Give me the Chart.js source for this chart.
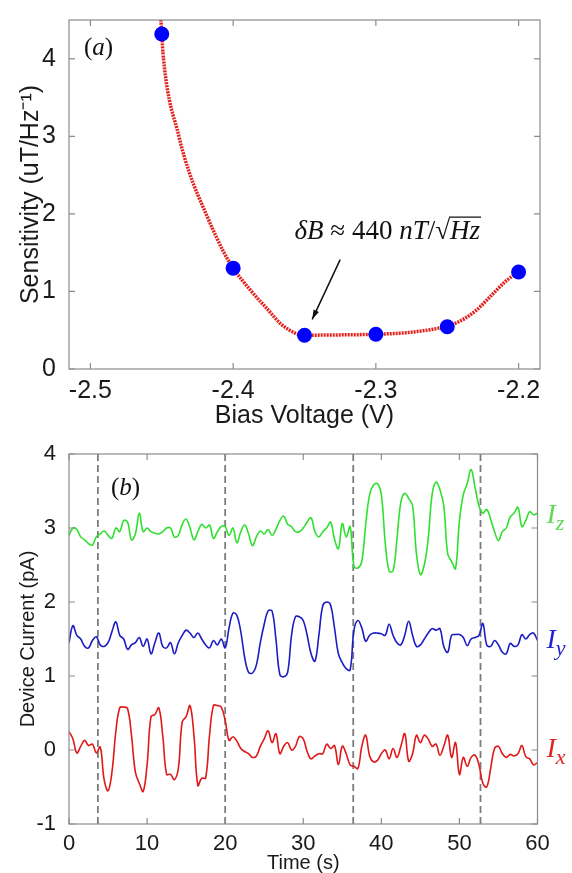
<!DOCTYPE html>
<html>
<head>
<meta charset="utf-8">
<script src="https://cdn.jsdelivr.net/npm/chart.js@4/dist/chart.umd.min.js"></script>
<style>
  body { margin: 0; background: #fff; }
  #wrap { position: relative; width: 572px; height: 873px; }
  canvas { position: absolute; left: 0; }
</style>
</head>
<body>
<div id="wrap">
  <canvas id="sensChart" width="572" height="430" style="top:0"></canvas>
  <canvas id="currChart" width="572" height="443" style="top:430px"></canvas>
</div>
<script>
// (a) pontos medidos
const biasV = [-2.45, -2.4, -2.35, -2.3, -2.25, -2.2];
const sensitivity = [4.32, 1.30, 0.436, 0.448, 0.544, 1.25];
// curva de ajuste
const fitV = [-2.4512, -2.45, -2.4488, -2.438, -2.431, -2.419, -2.4064, -2.4, -2.388, -2.3764, -2.3647, -2.35, -2.325, -2.3, -2.275, -2.248, -2.2388, -2.2295, -2.2201, -2.2085, -2.2];
const fitS = [4.7, 4.32, 4.0, 3.0, 2.55, 2.0, 1.5, 1.30, 1.02, 0.78, 0.553, 0.436, 0.44, 0.448, 0.475, 0.565, 0.64, 0.76, 0.93, 1.14, 1.25];

// (b) correntes do dispositivo
const tempo = [0, 0.5, 1, 1.5, 2, 2.5, 3, 3.5, 4, 4.5, 5, 5.5, 6, 6.5, 7, 7.5, 8, 8.5, 9, 9.5,
  10, 10.5, 11, 11.5, 12, 12.5, 13, 13.5, 14, 14.5, 15, 15.5, 16, 16.5, 17, 17.5, 18, 18.5, 19, 19.5,
  20, 20.5, 21, 21.5, 22, 22.5, 23, 23.5, 24, 24.5, 25, 25.5, 26, 26.5, 27, 27.5, 28, 28.5, 29, 29.5,
  30, 30.5, 31, 31.5, 32, 32.5, 33, 33.5, 34, 34.5, 35, 35.5, 36, 36.5, 37, 37.5, 38, 38.5, 39, 39.5,
  40, 40.5, 41, 41.5, 42, 42.5, 43, 43.5, 44, 44.5, 45, 45.5, 46, 46.5, 47, 47.5, 48, 48.5, 49, 49.5,
  50, 50.5, 51, 51.5, 52, 52.5, 53, 53.5, 54, 54.5, 55, 55.5, 56, 56.5, 57, 57.5, 58, 58.5, 59, 59.5, 60];
const correnteZ = [2.90, 3.00, 2.98, 2.88, 2.84, 2.79, 2.77, 2.88, 2.92, 2.96,
  2.90, 2.86, 3.00, 2.95, 3.10, 3.08, 2.84, 2.92, 3.20, 2.95,
  3.00, 2.95, 2.93, 2.92, 2.95, 3.00, 3.00, 2.88, 2.90, 3.05,
  3.12, 3.00, 2.84, 2.95, 3.05, 3.00, 3.04, 2.86, 2.95, 3.02,
  3.02, 2.90, 3.00, 2.80, 2.95, 3.04, 2.92, 2.76, 2.88, 2.96,
  2.92, 2.98, 2.90, 2.98, 3.10, 3.16, 3.05, 3.02, 2.95, 2.95,
  3.00, 3.08, 3.14, 2.95, 2.88, 2.95, 3.00, 3.08, 2.85, 2.72,
  3.06, 2.88, 3.02, 2.48, 2.46, 2.55, 3.05, 3.45, 3.58, 3.60,
  3.45, 2.80, 2.42, 2.42, 2.85, 3.35, 3.47, 3.40, 3.30, 2.65,
  2.37, 2.50, 2.85, 3.45, 3.62, 3.52, 3.30, 2.65, 2.55, 2.45,
  3.10, 3.45, 3.60, 3.79, 3.55, 3.30, 3.20, 3.25, 3.12, 2.95,
  2.83, 2.95, 3.00, 3.15, 3.20, 3.28, 3.02, 3.10, 3.22, 3.18, 3.20];
const correnteY = [1.45, 1.68, 1.55, 1.50, 1.40, 1.38, 1.48, 1.53, 1.42, 1.40,
  1.45, 1.60, 1.73, 1.55, 1.50, 1.36, 1.42, 1.45, 1.52, 1.40,
  1.50, 1.30, 1.45, 1.58, 1.40, 1.38, 1.45, 1.30, 1.45, 1.55,
  1.62, 1.58, 1.52, 1.58, 1.50, 1.42, 1.38, 1.48, 1.42, 1.50,
  1.38, 1.65, 1.85, 1.82, 1.60, 1.25, 1.05, 1.04, 1.15, 1.45,
  1.70, 1.88, 1.88, 1.50, 1.02, 0.99, 1.05, 1.55, 1.80, 1.80,
  1.75, 1.55, 1.30, 1.20, 1.55, 1.95, 2.00, 1.96, 1.65, 1.30,
  1.18, 1.10, 1.08, 1.62, 1.75, 1.65, 1.47, 1.55, 1.58, 1.58,
  1.57, 1.55, 1.70, 1.55, 1.45, 1.42, 1.55, 1.74, 1.55, 1.40,
  1.42, 1.50, 1.58, 1.64, 1.62, 1.64, 1.40, 1.32, 1.55, 1.56,
  1.56, 1.52, 1.41, 1.50, 1.52, 1.55, 1.71, 1.42, 1.40, 1.48,
  1.42, 1.32, 1.30, 1.44, 1.40, 1.42, 1.56, 1.50, 1.56, 1.58, 1.48];
const correnteX = [0.25, 0.15, -0.04, 0.05, 0.13, 0.06, 0.08, -0.04, 0.04, -0.40,
  -0.55, -0.30, 0.25, 0.57, 0.58, 0.56, 0.20, -0.30, -0.45, -0.56,
  -0.20, 0.45, 0.48, 0.57, 0.20, -0.33, -0.33, -0.40, -0.25, 0.38,
  0.45, 0.60, 0.20, -0.48, -0.38, -0.38, 0.20, 0.60, 0.60, 0.58,
  0.40, 0.13, 0.18, 0.12, 0.02, -0.02, -0.05, -0.10, -0.08, 0.05,
  0.15, 0.26, 0.10, 0.22, -0.05, 0.05, 0.10, 0.00, 0.05, 0.18,
  0.15, -0.02, -0.12, -0.08, -0.05, -0.05, 0.08, 0.02, 0.06, -0.20,
  0.05, -0.05, -0.20, -0.22, -0.25, 0.05, 0.20, -0.08, -0.16, -0.14,
  -0.05, 0.00, -0.12, 0.02, -0.10, 0.05, 0.22, -0.15, -0.05, 0.20,
  0.10, 0.20, 0.15, 0.05, 0.08, -0.07, 0.05, 0.20, -0.10, 0.10,
  -0.33, -0.10, -0.22, -0.10, -0.07, -0.20, -0.45, -0.50, -0.25, 0.02,
  0.05, -0.05, -0.10, -0.06, -0.08, -0.05, 0.06, -0.09, -0.12, -0.20, -0.17];
// instantes das linhas tracejadas
const eventos = [3.7, 20.0, 36.4, 52.7];

const SANS = '"Liberation Sans", Arial, sans-serif';
const SERIF = '"Liberation Serif", "Times New Roman", serif';
const pares = (xs, ys) => xs.map((v, i) => ({ x: v, y: ys[i] }));

// escreve trechos de texto (italico ou nao) em sequencia
function escrever(ctx, x, y, trechos, tam, cor, alinhar) {
  let total = 0;
  trechos.forEach(r => {
    ctx.font = (r.it ? 'italic ' : '') + (r.tam || tam) + 'px ' + SERIF;
    r.w = ctx.measureText(r.t).width;
    total += r.w;
  });
  let cx = alinhar === 'center' ? x - total / 2 : x;
  ctx.fillStyle = cor;
  ctx.strokeStyle = cor;
  ctx.textAlign = 'left';
  ctx.textBaseline = 'alphabetic';
  trechos.forEach(r => {
    ctx.font = (r.it ? 'italic ' : '') + (r.tam || tam) + 'px ' + SERIF;
    ctx.fillText(r.t, cx, y + (r.dy || 0));
    if (r.barra) {
      ctx.beginPath();
      ctx.lineWidth = 1.2;
      ctx.moveTo(cx - 1, y - tam * 0.8);
      ctx.lineTo(cx + r.w + 1, y - tam * 0.8);
      ctx.stroke();
    }
    cx += r.w;
  });
}

// moldura e marcas internas estilo matlab
const moldura = {
  id: 'moldura',
  afterDatasetsDraw(chart) {
    const { ctx, chartArea: a, scales: { x, y } } = chart;
    ctx.save();
    ctx.strokeStyle = '#8c8c8c';
    ctx.lineWidth = 1.2;
    ctx.strokeRect(a.left, a.top, a.right - a.left, a.bottom - a.top);
    ctx.beginPath();
    x.ticks.forEach(t => {
      const p = x.getPixelForValue(t.value);
      ctx.moveTo(p, a.bottom); ctx.lineTo(p, a.bottom - 6);
      ctx.moveTo(p, a.top); ctx.lineTo(p, a.top + 6);
    });
    y.ticks.forEach(t => {
      const p = y.getPixelForValue(t.value);
      ctx.moveTo(a.left, p); ctx.lineTo(a.left + 6, p);
      ctx.moveTo(a.right, p); ctx.lineTo(a.right - 6, p);
    });
    ctx.stroke();
    ctx.restore();
  }
};

const notasA = {
  id: 'notasA',
  afterDraw(chart) {
    const { ctx, chartArea: a, scales: { x, y } } = chart;
    ctx.save();
    escrever(ctx, a.left + 15, a.top + 35, [{ t: '(' }, { t: 'a', it: true }, { t: ')' }], 25, '#111');
    escrever(ctx, x.getPixelForValue(-2.292), y.getPixelForValue(1.68),
      [{ t: 'δB', it: true }, { t: ' ≈ 440 ' }, { t: 'nT', it: true }, { t: '/' }, { t: '√' }, { t: 'Hz', it: true, barra: true }],
      27, '#111', 'center');
    // seta
    const x1 = x.getPixelForValue(-2.325), y1 = y.getPixelForValue(1.41);
    const x2 = x.getPixelForValue(-2.3446), y2 = y.getPixelForValue(0.64);
    ctx.strokeStyle = '#111';
    ctx.fillStyle = '#111';
    ctx.lineWidth = 1.5;
    ctx.beginPath(); ctx.moveTo(x1, y1); ctx.lineTo(x2, y2); ctx.stroke();
    const ang = Math.atan2(y2 - y1, x2 - x1), L = 10;
    ctx.beginPath();
    ctx.moveTo(x2, y2);
    ctx.lineTo(x2 - L * Math.cos(ang - 0.3), y2 - L * Math.sin(ang - 0.3));
    ctx.lineTo(x2 - L * Math.cos(ang + 0.3), y2 - L * Math.sin(ang + 0.3));
    ctx.closePath(); ctx.fill();
    ctx.restore();
  }
};

const notasB = {
  id: 'notasB',
  afterDraw(chart) {
    const { ctx, chartArea: a, scales: { y } } = chart;
    ctx.save();
    escrever(ctx, a.left + 42, a.top + 41, [{ t: '(' }, { t: 'b', it: true }, { t: ')' }], 25, '#111');
    const xr = a.right + 9;
    escrever(ctx, xr, y.getPixelForValue(3.07), [{ t: 'I', it: true }, { t: 'z', it: true, tam: 22, dy: 7 }], 28, '#5fd957');
    escrever(ctx, xr, y.getPixelForValue(1.38), [{ t: 'I', it: true }, { t: 'y', it: true, tam: 22, dy: 7 }], 28, '#2323d0');
    escrever(ctx, xr, y.getPixelForValue(-0.1), [{ t: 'I', it: true }, { t: 'x', it: true, tam: 22, dy: 7 }], 28, '#e02424');
    ctx.restore();
  }
};

Chart.defaults.font.family = SANS;
Chart.defaults.color = '#1a1a1a';

// grafico (a)
new Chart(document.getElementById('sensChart'), {
  type: 'line',
  data: {
    datasets: [
      {
        data: pares(biasV, sensitivity),
        showLine: false,
        pointRadius: 7.5,
        pointBackgroundColor: '#0000ff',
        pointBorderWidth: 0,
        order: 0
      },
      {
        data: pares(fitV, fitS),
        borderColor: '#e3201c',
        borderWidth: 3.5,
        borderDash: [2, 1],
        cubicInterpolationMode: 'monotone',
        pointRadius: 0,
        order: 1
      }
    ]
  },
  options: {
    responsive: false,
    animation: false,
    layout: { padding: { left: 0, right: 32, top: 12, bottom: 0 } },
    plugins: { legend: { display: false }, tooltip: { enabled: false } },
    scales: {
      x: {
        type: 'linear', min: -2.515, max: -2.185,
        grid: { display: false }, border: { display: false },
        ticks: { stepSize: 0.1, includeBounds: false, padding: -1, font: { size: 25 },
          callback: v => v.toFixed(1) },
        title: { display: true, text: 'Bias Voltage (V)', font: { size: 25, lineHeight: 1 }, padding: { bottom: 1, top: 0 } },
        afterFit: s => { s.height = 61; }
      },
      y: {
        min: 0, max: 4.5,
        grid: { display: false }, border: { display: false },
        ticks: { stepSize: 1, includeBounds: false, padding: 5, font: { size: 25 } },
        title: { display: true, text: 'Sensitivity (uT/Hz⁻¹)', font: { size: 25, lineHeight: 1 }, padding: { top: 19, bottom: 0 } },
        afterFit: s => { s.width = 69; }
      }
    }
  },
  plugins: [moldura, notasA]
});

// grafico (b)
const tracejadas = eventos.map(t => ({
  data: [{ x: t, y: -1 }, { x: t, y: 4 }],
  borderColor: '#7c7c7c',
  borderWidth: 1.8,
  borderDash: [7, 4],
  pointRadius: 0,
  order: 5
}));

new Chart(document.getElementById('currChart'), {
  type: 'line',
  data: {
    datasets: [
      { data: pares(tempo, correnteZ), borderColor: '#2fe02f', borderWidth: 1.6, tension: 0.4, pointRadius: 0, order: 1 },
      { data: pares(tempo, correnteY), borderColor: '#1c1cc4', borderWidth: 1.6, tension: 0.4, pointRadius: 0, order: 1 },
      { data: pares(tempo, correnteX), borderColor: '#e01818', borderWidth: 1.6, tension: 0.4, pointRadius: 0, order: 1 },
      ...tracejadas
    ]
  },
  options: {
    responsive: false,
    animation: false,
    layout: { padding: { left: 0, right: 34.5, top: 24, bottom: 0 } },
    plugins: { legend: { display: false }, tooltip: { enabled: false } },
    scales: {
      x: {
        type: 'linear', min: 0, max: 60,
        grid: { display: false }, border: { display: false },
        ticks: { stepSize: 10, padding: -1, font: { size: 22 } },
        title: { display: true, text: 'Time (s)', font: { size: 20, lineHeight: 1 }, padding: { bottom: 0, top: 0 } },
        afterFit: s => { s.height = 49; }
      },
      y: {
        min: -1, max: 4,
        grid: { display: false }, border: { display: false },
        ticks: { stepSize: 1, padding: 5, font: { size: 22 } },
        title: { display: true, text: 'Device Current (pA)', font: { size: 20, lineHeight: 1 }, padding: { top: 18, bottom: 0 } },
        afterFit: s => { s.width = 69; }
      }
    }
  },
  plugins: [moldura, notasB]
});
</script>
</body>
</html>
